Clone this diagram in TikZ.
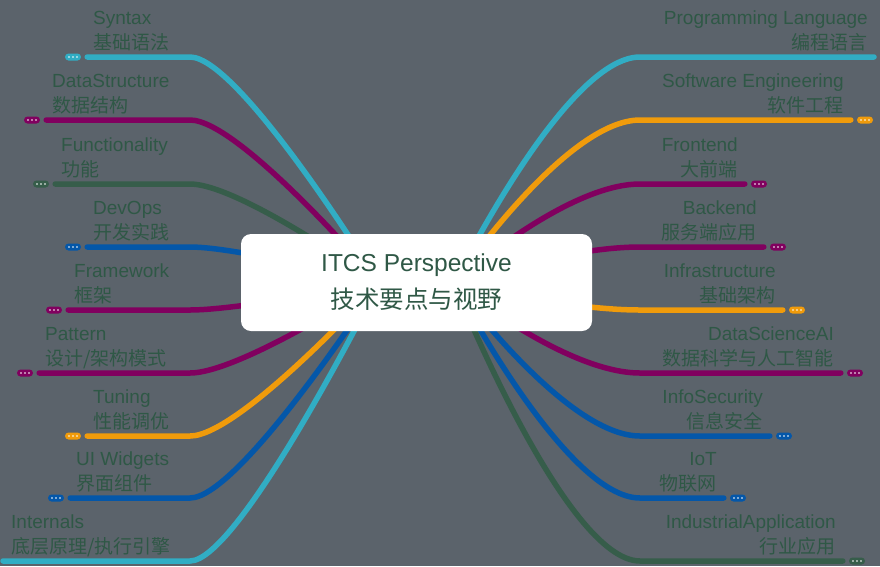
\documentclass[tikz,border=0pt]{standalone}
\usepackage{fontspec}
\setmainfont{Liberation Sans}
\newfontfamily\cjk{Noto Sans CJK SC}
\definecolor{bg}{HTML}{5B636B}
\definecolor{ink}{HTML}{2F5846}
\definecolor{tealc}{HTML}{31ADC4}
\definecolor{plum}{HTML}{81005F}
\definecolor{pine}{HTML}{365D4A}
\definecolor{royal}{HTML}{0457A9}
\definecolor{amber}{HTML}{F09B0B}
\tikzset{
  root/.style={fill=white, rounded corners=10pt, minimum width=351pt, minimum height=97pt,
    align=center, text=ink, font=\fontsize{24.5}{37}\selectfont},
  lbl/.style={inner sep=0pt, text=ink, font=\fontsize{19}{25}\selectfont},
  lft/.style={lbl, anchor=base west, align=left},
  rgt/.style={lbl, anchor=base east, align=right},
  more/.style={fill=#1, rounded corners=3.5pt, minimum width=16pt, minimum height=7pt, inner sep=0pt,
    path picture={\foreach \d in {-4,0,4}
      \fill[white] ([xshift=\d pt]path picture bounding box.center) circle (0.9pt);}},
  branch/.style={draw=#1, line width=5.5pt, line cap=round}
}
\begin{document}
\begin{tikzpicture}[x=1pt,y=-1pt]
\useasboundingbox (0,0) rectangle (880,566);
\fill[bg] (0,0) rectangle (880,566);
\coordinate (rootL) at (379,283);
\coordinate (rootR) at (454,283);
% left side
\node[lft] (syntax) at (93,49) {Syntax\\{\cjk 基础语法}};
\node[lft] (datastruct) at (52,112) {DataStructure\\{\cjk 数据结构}};
\node[lft] (func) at (61,176) {Functionality\\{\cjk 功能}};
\node[lft] (devops) at (93,239) {DevOps\\{\cjk 开发实践}};
\node[lft] (framework) at (74,302) {Framework\\{\cjk 框架}};
\node[lft] (pattern) at (45,365) {Pattern\\{\cjk 设计/架构模式}};
\node[lft] (tuning) at (93,428) {Tuning\\{\cjk 性能调优}};
\node[lft] (uiw) at (76,490) {UI Widgets\\{\cjk 界面组件}};
\node[lft] (internals) at (11,553) {Internals\\{\cjk 底层原理/执行引擎}};
\node[more=tealc] (syntax-more) at ([shift={(-20,8)}]syntax.base west) {};
\node[more=plum] (datastruct-more) at ([shift={(-20,8)}]datastruct.base west) {};
\node[more=pine] (func-more) at ([shift={(-20,8)}]func.base west) {};
\node[more=royal] (devops-more) at ([shift={(-20,8)}]devops.base west) {};
\node[more=plum] (framework-more) at ([shift={(-20,8)}]framework.base west) {};
\node[more=plum] (pattern-more) at ([shift={(-20,8)}]pattern.base west) {};
\node[more=amber] (tuning-more) at ([shift={(-20,8)}]tuning.base west) {};
\node[more=royal] (uiw-more) at ([shift={(-20,8)}]uiw.base west) {};
\coordinate (internals-end) at (3,561);
\draw[branch=tealc] (rootL) .. controls (rootL) and (240,57) .. (190,57) -- ([xshift=6pt]syntax-more.east);
\draw[branch=plum] (rootL) .. controls (rootL) and (240,120) .. (190,120) -- ([xshift=6pt]datastruct-more.east);
\draw[branch=pine] (rootL) .. controls (rootL) and (240,184) .. (190,184) -- ([xshift=6pt]func-more.east);
\draw[branch=royal] (rootL) .. controls (rootL) and (240,247) .. (190,247) -- ([xshift=6pt]devops-more.east);
\draw[branch=plum] (rootL) .. controls (rootL) and (240,310) .. (190,310) -- ([xshift=6pt]framework-more.east);
\draw[branch=plum] (rootL) .. controls (rootL) and (240,373) .. (190,373) -- ([xshift=6pt]pattern-more.east);
\draw[branch=amber] (rootL) .. controls (rootL) and (240,436) .. (190,436) -- ([xshift=6pt]tuning-more.east);
\draw[branch=royal] (rootL) .. controls (rootL) and (240,498) .. (190,498) -- ([xshift=6pt]uiw-more.east);
\draw[branch=tealc] (rootL) .. controls (rootL) and (240,561) .. (190,561) -- (internals-end);
% right side
\node[rgt] (proglang) at (868,49) {Programming Language\\{\cjk 编程语言}};
\node[rgt] (softeng) at (844,112) {Software Engineering\\{\cjk 软件工程}};
\node[rgt] (frontend) at (738,176) {Frontend\\{\cjk 大前端}};
\node[rgt] (backend) at (757,239) {Backend\\{\cjk 服务端应用}};
\node[rgt] (infra) at (776,302) {Infrastructure\\{\cjk 基础架构}};
\node[rgt] (dsai) at (834,365) {DataScienceAI\\{\cjk 数据科学与人工智能}};
\node[rgt] (infosec) at (763,428) {InfoSecurity\\{\cjk 信息安全}};
\node[rgt] (iot) at (717,490) {IoT\\{\cjk 物联网}};
\node[rgt] (industry) at (836,553) {IndustrialApplication\\{\cjk 行业应用}};
\node[more=amber] (softeng-more) at ([shift={(21,8)}]softeng.base east) {};
\node[more=plum] (frontend-more) at ([shift={(21,8)}]frontend.base east) {};
\node[more=plum] (backend-more) at ([shift={(21,8)}]backend.base east) {};
\node[more=amber] (infra-more) at ([shift={(21,8)}]infra.base east) {};
\node[more=plum] (dsai-more) at ([shift={(21,8)}]dsai.base east) {};
\node[more=royal] (infosec-more) at ([shift={(21,8)}]infosec.base east) {};
\node[more=royal] (iot-more) at ([shift={(21,8)}]iot.base east) {};
\node[more=pine] (industry-more) at ([shift={(21,8)}]industry.base east) {};
\coordinate (proglang-end) at (874,57);
\draw[branch=tealc] (rootR) .. controls (rootR) and (565,57) .. (640,57) -- (proglang-end);
\draw[branch=amber] (rootR) .. controls (rootR) and (565,120) .. (640,120) -- ([xshift=-6pt]softeng-more.west);
\draw[branch=plum] (rootR) .. controls (rootR) and (565,184) .. (640,184) -- ([xshift=-6pt]frontend-more.west);
\draw[branch=plum] (rootR) .. controls (rootR) and (565,247) .. (640,247) -- ([xshift=-6pt]backend-more.west);
\draw[branch=amber] (rootR) .. controls (rootR) and (565,310) .. (640,310) -- ([xshift=-6pt]infra-more.west);
\draw[branch=plum] (rootR) .. controls (rootR) and (565,373) .. (640,373) -- ([xshift=-6pt]dsai-more.west);
\draw[branch=royal] (rootR) .. controls (rootR) and (565,436) .. (640,436) -- ([xshift=-6pt]infosec-more.west);
\draw[branch=royal] (rootR) .. controls (rootR) and (565,498) .. (640,498) -- ([xshift=-6pt]iot-more.west);
\draw[branch=pine] (rootR) .. controls (rootR) and (565,561) .. (640,561) -- ([xshift=-6pt]industry-more.west);
% centre
\node[root] (root) at (416.5,282.5) {ITCS Perspective\\{\cjk 技术要点与视野}};
\end{tikzpicture}
\end{document}
